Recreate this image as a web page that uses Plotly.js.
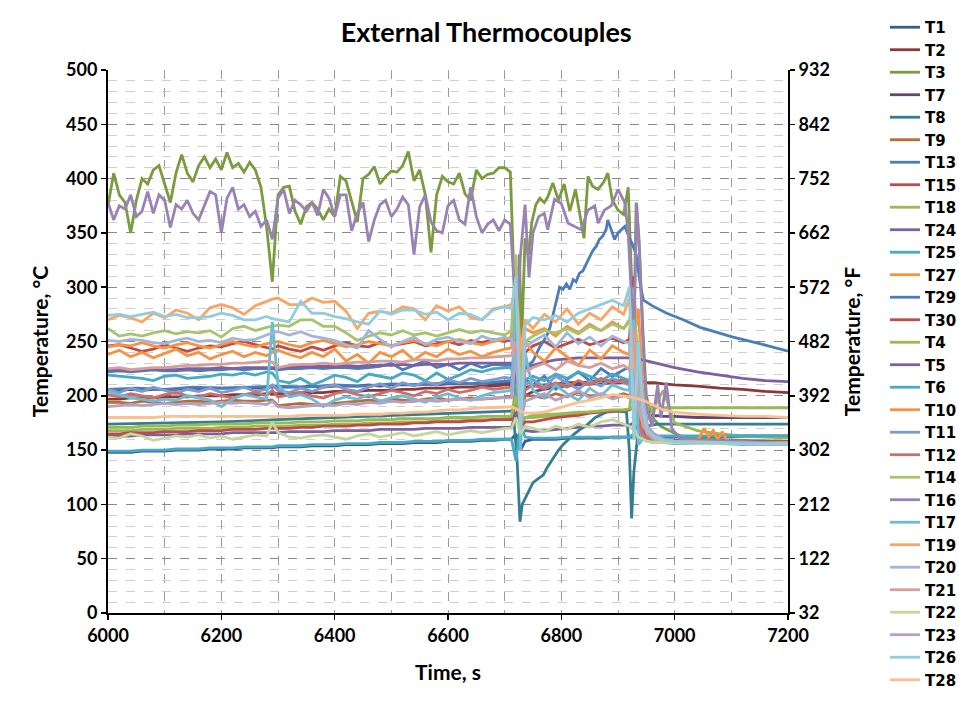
<!DOCTYPE html>
<html>
<head>
<meta charset="utf-8">
<script src="https://cdn.plot.ly/plotly-3.0.1.min.js"></script>
<style>
  html, body { margin: 0; padding: 0; background: #fff; }
  #chart { width: 959px; height: 701px; }
</style>
</head>
<body>
<div id="chart"></div>
<script>
// ---------------- DATA ----------------
// Shared time base for most thermocouples (s)
const tC = [6000,6020,6040,6060,6080,6100,6120,6140,6160,6180,6200,6220,6240,6260,6280,
  6290,
  6300,6320,6340,6360,6380,6400,6420,6440,6460,6480,6500,6520,6540,6560,6580,6600,6620,6640,6660,6680,6700,
  6712,6720,6728,6736,
  6750,6770,6790,6810,6830,6850,6870,6890,6910,
  6920,6928,6936,6944,6952,6964,6980,7000,
  7040,7080,7120,7160,7200];

// 10-second time base for the two hottest (noisiest) traces
const t10 = [6000,6010,6020,6030,6040,6050,6060,6070,6080,6090,
  6100,6110,6120,6130,6140,6150,6160,6170,6180,6190,
  6200,6210,6220,6230,6240,6250,6260,6270,6280,6290,
  6300,6310,6320,6330,6340,6350,6360,6370,6380,6390,
  6400,6410,6420,6430,6440,6450,6460,6470,6480,6490,
  6500,6510,6520,6530,6540,6550,6560,6570,6580,6590,
  6600,6610,6620,6630,6640,6650,6660,6670,6680,6690,
  6700,6710];

// Temperatures, °C
const vT1 = [148,148,148,149,149,149,150,150,150,151,151,151,152,152,152, 152,
  153,153,153,154,154,154,155,155,155,156,156,156,157,157,157,158,158,158,159,159,160,
  160,165,150,158, 160,160,160,161,161,161,161,162,162, 162,162,162,162,162,162,162,162, 162,162,163,163,163];
const vT2 = [197,197,198,198,198,199,199,199,200,200,200,201,201,201,202, 202,
  202,202,203,203,203,204,204,204,205,205,205,206,206,207,207,207,208,208,209,209,210,
  210,215,205,208, 209,210,211,212,212,213,214,214,214, 214,214,213,213,212,212,211,210, 209,207,206,204,203];
const vT4 = [171,171,171,172,172,172,173,173,173,174,174,174,174,175,175, 175,
  175,175,176,176,176,177,177,177,178,178,178,179,179,179,179,180,180,180,181,181,181,
  181,200,175,180, 182,183,183,184,185,185,186,187,187, 188,190,200,195,190,189,189,189, 189,189,189,189,189];
const vT5 = [224,224,223,224,225,224,224,225,225,225,226,225,226,226,226, 226,
  226,226,227,227,227,227,228,227,228,228,228,229,228,229,229,229,230,230,230,230,230,
  230,225,220,226, 228,231,233,234,235,235,235,235,235, 235,235,234,233,232,231,229,226, 222,219,216,214,213];
const vT6 = [149,149,149,150,150,150,151,151,151,152,152,152,153,153,153, 153,
  154,154,154,155,155,155,156,156,156,157,157,157,158,158,158,159,159,159,160,160,160,
  160,140,175,162, 161,161,161,162,162,162,162,162,162, 162,165,160,162,163,163,163,163, 163,163,163,163,163];
const vT7 = [205,205,206,205,206,206,206,207,206,207,207,207,208,207,208, 208,
  208,208,208,209,208,209,209,209,210,209,210,210,210,211,210,211,211,211,212,211,212,
  212,205,190,200, 204,206,208,209,210,211,211,212,212, 212,210,200,190,185,182,181,181, 180,180,180,180,180];
const vT9 = [194,194,193,195,194,193,194,195,195,194,195,196,195,195,196, 196,
  191,192,193,192,191,193,194,195,196,195,197,196,195,197,198,196,197,198,197,198,199,
  199,230,185,200, 200,198,202,199,203,200,201,199,202, 200,210,180,168,163,160,159,158, 158,157,157,157,156];
const vT11 = [206,203,207,204,208,205,202,206,204,207,203,205,208,204,206, 210,
  205,203,207,204,208,210,206,204,208,211,207,212,209,213,210,215,212,216,213,215,217,
  216,240,170,210, 215,208,218,212,206,214,209,216,212, 210,230,170,163,160,158,157,157, 157,156,156,156,156];
const vT12 = [201,199,202,200,198,201,203,200,199,202,200,198,201,203,200, 205,
  199,201,203,200,198,202,204,201,199,202,205,203,200,204,202,206,203,205,208,206,207,
  208,260,180,205, 210,206,212,208,214,210,216,212,214, 210,250,175,165,161,159,158,158, 157,157,157,156,156];
const vT13 = [222,223,222,223,224,223,223,224,223,224,224,225,224,225,225, 225,
  224,225,225,226,225,226,226,225,226,227,230,224,228,232,226,229,224,230,226,229,228,
  228,210,240,215, 210,218,206,215,222,214,225,218,224, 226,205,180,168,162,160,159,158, 158,157,157,157,156];
const vT14 = [262,255,257,255,258,260,257,259,258,260,254,262,264,260,263, 264,
  265,264,270,270,264,264,258,251,255,258,256,260,256,258,255,258,261,258,260,258,256,
  260,330,200,250, 255,260,258,262,257,264,260,266,262, 268,300,200,175,165,160,158,157, 157,156,156,156,155];
const vT15 = [246,247,244,241,243,247,244,241,244,246,245,248,250,247,244, 243,
  246,243,241,245,242,246,249,246,245,249,246,248,250,246,248,250,247,251,249,252,250,
  252,320,190,240, 246,250,244,248,252,247,250,253,249, 252,310,190,172,165,161,159,158, 157,157,156,156,156];
const vT17 = [204,201,198,197,195,197,196,200,198,196,190,197,201,199,197, 268,
  210,199,201,197,190,196,199,197,201,195,198,200,197,194,199,202,198,196,200,203,204,
  205,290,150,240, 205,198,210,202,196,207,200,210,206, 205,270,155,160,158,157,157,156, 156,156,155,155,155];
const vT18 = [168,168,168,169,169,169,170,170,170,170,171,171,171,172,172, 172,
  172,172,173,173,173,174,174,174,175,175,175,176,176,176,177,177,177,178,178,178,179,
  179,210,170,180, 180,181,182,183,184,185,186,186,187, 187,220,200,185,178,190,205,175, 168,165,163,162,161];
const vT19 = [270,274,272,268,276,272,279,276,270,281,284,281,275,283,287, 289,
  290,284,284,290,286,287,278,262,276,278,276,282,280,270,283,278,282,272,270,280,282,
  284,300,240,270, 262,275,268,280,266,276,270,282,275, 290,230,200,185,170,162,160,158, 157,156,156,155,155];
const vT20 = [251,250,252,251,249,248,251,253,250,251,249,253,251,252,256, 258,
  259,256,259,255,253,251,247,244,260,252,245,250,254,247,252,254,250,248,255,251,254,
  252,230,190,245, 250,256,245,258,248,254,246,255,250, 248,200,240,180,166,160,158,157, 156,156,156,155,155];
const vT21 = [225,226,224,225,226,226,227,228,228,229,229,230,230,231,232, 231,
  226,228,229,229,230,229,230,231,231,232,232,231,233,233,232,234,234,235,235,236,237,
  237,250,200,222, 226,230,224,232,228,226,230,225,228, 224,260,190,172,165,161,159,158, 158,157,157,156,156];
const vT22 = [162,161,165,163,159,161,163,162,164,161,163,160,162,164,163, 176,
  166,162,161,163,164,162,160,163,165,162,164,166,163,165,167,164,166,168,166,168,170,
  170,180,165,172, 170,167,172,169,174,171,176,178,174, 172,168,162,160,158,157,157,157, 156,156,156,156,156];
const vT23 = [190,191,192,191,192,193,192,193,192,193,194,193,194,193,192, 195,
  190,189,190,191,192,191,193,192,194,193,195,194,195,196,195,196,197,196,197,198,198,
  198,240,175,195, 198,202,196,200,205,198,202,197,200, 198,220,190,200,172,165,160,158, 157,157,157,156,156];
const vT24 = [163,163,163,164,164,164,164,165,165,165,165,166,166,166,166, 166,
  166,167,167,167,167,168,168,168,168,169,169,169,169,170,170,170,170,171,171,171,171,
  171,185,165,168, 167,168,169,170,171,172,172,173,173, 173,175,168,163,161,160,160,159, 159,159,158,158,158];
const vT25 = [219,218,217,216,214,218,219,216,217,218,220,219,221,219,222, 221,
  214,212,216,210,214,219,217,213,220,218,216,221,219,214,221,215,219,224,222,225,226,
  226,200,175,215, 218,214,220,216,222,218,214,220,216, 214,190,230,175,165,161,159,158, 157,157,156,156,156];
const vT26 = [274,275,273,275,277,273,275,272,272,273,276,274,270,270,273, 271,
  270,268,287,276,276,273,271,268,266,278,275,279,279,275,277,270,276,275,270,279,282,
  280,310,170,265, 272,270,274,268,276,280,284,288,283, 300,160,250,190,168,162,159,158, 157,157,156,156,156];
const vT27 = [245,247,246,249,246,244,247,249,246,244,247,250,247,245,248, 249,
  250,247,245,249,251,248,245,247,250,248,246,249,251,248,246,250,252,249,247,250,252,
  254,290,210,262, 258,262,255,264,258,266,260,268,262, 270,250,280,200,170,162,159,158, 157,156,156,156,155];
const vT28 = [180,180,180,180,180,181,181,181,181,181,181,181,181,181,181, 181,
  181,181,182,182,182,182,182,183,183,183,184,184,185,185,186,187,187,188,189,189,190,
  190,188,186,184, 184,185,188,191,194,196,198,201,200, 199,198,197,196,194,191,187,185, 183,182,181,181,180];
const vT30 = [165,165,166,166,166,167,167,167,168,168,168,169,169,169,170, 170,
  170,170,171,171,172,172,172,173,173,174,174,174,175,175,176,176,176,177,177,178,178,
  178,200,170,176, 176,178,180,181,182,184,185,186,187, 187,190,180,170,164,161,159,158, 158,157,157,157,157];

// T10: shared base up to 7000 s, then its own tail (small oscillation near 7050-7100 s)
const tT10tail = [7040,7052,7060,7068,7076,7084,7092,7100,7140,7200];
const vT10 = [238,242,236,240,235,239,243,237,240,234,238,241,236,240,237, 240,
  242,238,235,240,236,243,232,238,230,240,236,242,233,240,236,243,238,241,236,240,243,
  244,300,230,250, 240,232,244,236,228,242,234,246,240, 238,280,170,162,159,158,158,158,
  158,170,162,168,160,167,159,158,157,157];

// T3 (hottest, green) and T16 (purple): 10 s data then the disturbance period
const tT3tail = [6717,6722,6726,6730,6736,6742,6748,6755,6762,6770,
  6776,6785,6795,6805,6815,6825,6835,6840,6847,6855,
  6865,6875,6882,6890,6900,6910,6918,6923,6928,6932,
  6937,6944,6950,6960,6975,6990,7010,7050,7200];
const vT3 = [375,405,385,378,350,380,400,395,408,412,
  395,378,405,422,405,397,412,420,410,418,
  408,424,410,414,406,415,408,392,355,305,
  385,392,393,370,358,374,378,372,362,372,
  365,402,398,380,360,400,404,411,395,402,
  407,406,412,425,398,408,385,332,385,402,
  397,395,405,386,380,408,400,404,405,410,
  410,406,
  300,175,330,250,345,330,360,376,382,378,
  383,396,380,395,370,390,360,345,402,393,
  390,397,405,380,371,367,392,320,250,378,
  345,260,200,180,172,168,163,160,158];

const tT16tail = [6717,6722,6728,6736,6743,6750,6760,6770,6776,6788,
  6800,6812,6823,6835,6847,6859,6865,6876,6888,6900,
  6912,6918,6923,6928,6933,6938,6944,6950,6960,6970,
  6976,6985,6995,7010,7200];
const vT16 = [378,362,375,372,385,365,370,388,368,385,
  380,355,376,372,380,368,362,375,388,385,
  350,382,392,372,376,365,370,356,362,344,
  382,390,368,380,376,370,378,366,390,382,
  365,385,385,352,368,378,342,362,376,380,
  365,372,383,376,330,374,385,360,352,350,
  375,380,362,358,392,365,350,358,362,352,
  362,358,
  300,272,330,376,309,350,365,368,353,381,
  377,359,356,353,371,375,359,371,375,390,
  378,350,298,255,377,330,250,190,172,210,
  180,212,170,160,156];

// T29 (blue): climbs to ~360 °C then cools slowly
const tT29 = [6000,6050,6100,6150,6200,6250,6300,6350,6400,6450,6500,6550,6600,6650,6700,
  6712,6720,6728,6736,6750,6762,6774,6780,6786,6792,
  6797,6803,6809,6815,6821,6826,6832,6838,6844,6850,
  6856,6862,6867,6873,6879,6882,6888,6894,6900,6906,
  6912,6918,6925,6932,6940,6945,6960,6986,7015,7045,
  7075,7103,7150,7200];
const vT29 = [206,207,206,208,207,208,209,208,210,209,211,210,212,211,213,
  214,240,200,225,232,245,255,263,276,291,
  300,298,303,298,307,305,313,315,322,328,
  334,338,344,347,353,362,353,344,350,353,
  356,348,340,330,300,288,283,276,270,263,
  258,254,248,241];

// T8 (dark teal): two sharp dips to ~85 °C
const tT8 = [6000,6100,6200,6300,6400,6500,6600,6700,
  6715,6722,6727,6731,6735,6742,6750,6760,6768,6774,
  6780,6786,6795,6803,6812,6821,6833,6845,6860,6880,
  6900,6915,6920,6924,6928,6934,6940,6950,6970,7000,
  7100,7200];
const vT8 = [174,175,176,178,180,182,184,186,
  186,140,84,100,104,112,120,124,127,133,
  138,143,150,155,160,164,169,173,180,185,
  186,185,150,87,130,160,170,172,174,174,
  174,174];

// Legend order / series names
const names = ['T1','T2','T3','T7','T8','T9','T13','T15','T18','T24','T25','T27','T29','T30',
  'T4','T5','T6','T10','T11','T12','T14','T16','T17','T19','T20','T21','T22','T23','T26','T28'];

// Styles
const colors = {
  T1:'#385D8A', T2:'#8C3836', T3:'#7A9C3E', T7:'#5C4776', T8:'#357D91', T9:'#B66D31',
  T13:'#4A7EBB', T15:'#BE4B48', T18:'#98B954', T24:'#7D60A0', T25:'#46AAC5', T27:'#F69240',
  T29:'#4A7EBB', T30:'#BE4B48', T4:'#98B954', T5:'#7D60A0', T6:'#46AAC5', T10:'#F69240',
  T11:'#7C9BCF', T12:'#CC6E6C', T14:'#A6C46C', T16:'#9983B5', T17:'#6CBCD2', T19:'#F9A664',
  T20:'#A3B6DA', T21:'#D69E9D', T22:'#C3D69B', T23:'#B3A2C7', T26:'#93CDDD', T28:'#FAC090'
};

// ---------------- BUILD ----------------
const series = {
  T1:[tC,vT1], T2:[tC,vT2], T3:[t10.concat(tT3tail),vT3], T7:[tC,vT7], T8:[tT8,vT8], T9:[tC,vT9],
  T13:[tC,vT13], T15:[tC,vT15], T18:[tC,vT18], T24:[tC,vT24], T25:[tC,vT25], T27:[tC,vT27],
  T29:[tT29,vT29], T30:[tC,vT30], T4:[tC,vT4], T5:[tC,vT5], T6:[tC,vT6],
  T10:[tC.slice(0,58).concat(tT10tail),vT10], T11:[tC,vT11], T12:[tC,vT12], T14:[tC,vT14],
  T16:[t10.concat(tT16tail),vT16], T17:[tC,vT17], T19:[tC,vT19], T20:[tC,vT20], T21:[tC,vT21],
  T22:[tC,vT22], T23:[tC,vT23], T26:[tC,vT26], T28:[tC,vT28]
};

for (const n of names) {
  const [x, y] = series[n];
  if (x.length !== y.length) throw new Error(n + ' length mismatch ' + x.length + ' vs ' + y.length);
}

const FONT = 'Lato, "Open Sans", sans-serif';
const LEGFONT = '"DejaVu Sans", Lato, sans-serif';

const traces = names.map(n => ({
  type: 'scatter', mode: 'lines', name: n,
  x: series[n][0], y: series[n][1],
  line: { color: colors[n], width: 2.8 },
  xaxis: 'x', yaxis: 'y'
}));

// invisible companion trace on the °F axis so the secondary axis is drawn
traces.push({
  type: 'scatter', mode: 'lines', name: '°F', showlegend: false, hoverinfo: 'skip',
  x: tC, y: vT1.map(c => c * 1.8 + 32),
  line: { color: 'rgba(0,0,0,0)', width: 0 }, opacity: 0,
  xaxis: 'x', yaxis: 'y2'
});

const layout = {
  width: 959, height: 701,
  paper_bgcolor: '#ffffff', plot_bgcolor: '#ffffff',
  margin: { l: 108, r: 171, t: 70, b: 88, autoexpand: false },
  font: { family: FONT, color: '#000', size: 16, weight: 700 },
  title: {
    text: 'External Thermocouples',
    font: { family: FONT, size: 27, weight: 700, color: '#000' },
    xref: 'container', x: 0.507, xanchor: 'center',
    yref: 'container', y: 0.953, yanchor: 'middle'
  },
  showlegend: true,
  legend: {
    xref: 'paper', x: 1.1426, xanchor: 'left',
    yref: 'paper', y: 1.1087, yanchor: 'top', maxheight: 695,
    font: { family: LEGFONT, size: 15, weight: 700, color: '#000' },
    bgcolor: 'rgba(0,0,0,0)', borderwidth: 0, itemwidth: 30, tracegroupgap: 0
  },
  xaxis: {
    range: [6000, 7200], tick0: 6000, dtick: 200, zeroline: false,
    showline: true, linecolor: '#000', linewidth: 2,
    ticks: 'outside', ticklen: 5, tickwidth: 1.5, tickcolor: '#000',
    tickfont: { family: FONT, size: 18, weight: 700 },
    showgrid: true, gridcolor: '#9a9a9a', griddash: 'dash', gridwidth: 1,
    minor: { dtick: 100, showgrid: true, gridcolor: '#9a9a9a', griddash: 'dash', gridwidth: 1, ticks: '' },
    title: { text: 'Time, s', font: { family: FONT, size: 21, weight: 700 }, standoff: 21 }
  },
  yaxis: {
    range: [0, 500], tick0: 0, dtick: 50, zeroline: false,
    showline: true, linecolor: '#000', linewidth: 2,
    ticks: 'outside', ticklen: 5, tickwidth: 1.5, tickcolor: '#000',
    tickfont: { family: FONT, size: 18, weight: 700 },
    showgrid: true, gridcolor: '#8a8a8a', griddash: 'dash', gridwidth: 1,
    minor: { dtick: 10, showgrid: true, gridcolor: '#cfcfcf', griddash: 'dash', gridwidth: 1, ticks: '' },
    title: { text: 'Temperature, °C', font: { family: FONT, size: 21, weight: 700 }, standoff: 12 }
  },
  yaxis2: {
    overlaying: 'y', side: 'right', anchor: 'x',
    range: [32, 932], tick0: 32, dtick: 90, zeroline: false, showgrid: false,
    showline: true, linecolor: '#000', linewidth: 2,
    ticks: 'outside', ticklen: 5, tickwidth: 1.5, tickcolor: '#000',
    tickfont: { family: FONT, size: 18, weight: 700 },
    title: { text: 'Temperature, °F', font: { family: FONT, size: 21, weight: 700 }, standoff: 16 }
  }
};

Plotly.newPlot('chart', traces, layout, { displayModeBar: false, staticPlot: true });
</script>
</body>
</html>
